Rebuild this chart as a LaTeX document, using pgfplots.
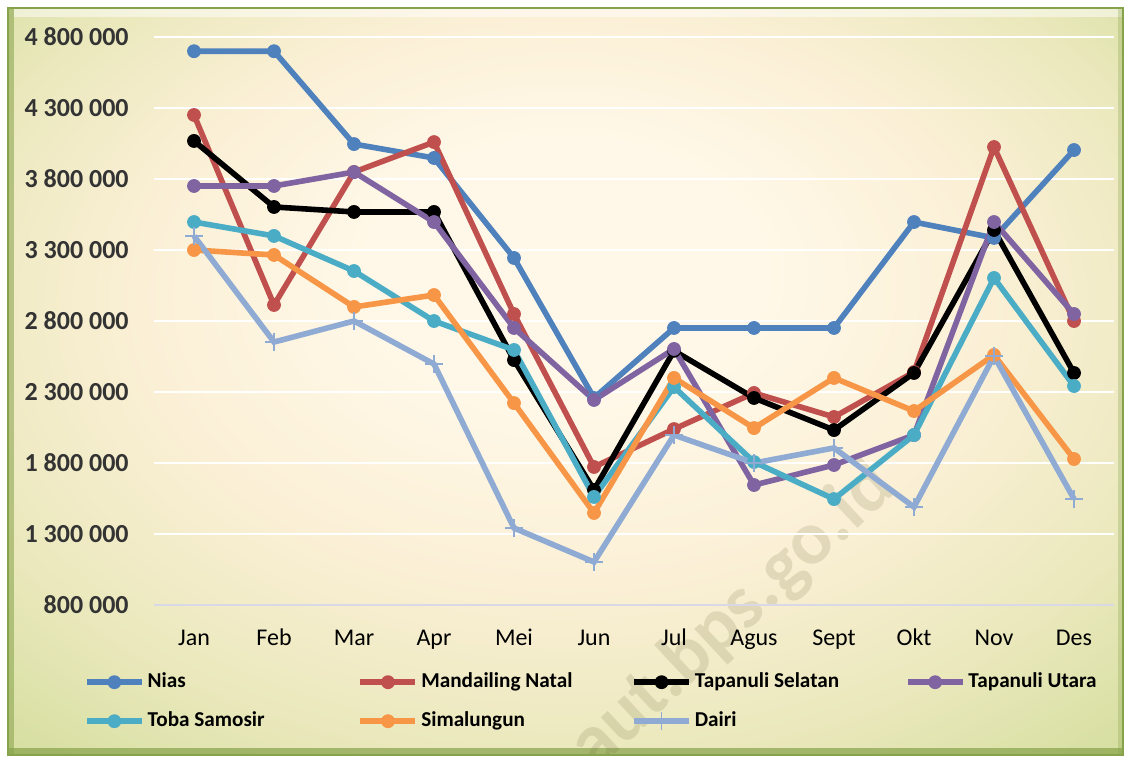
\documentclass[border=0pt]{standalone}
\usepackage{pgfplots}
\pgfplotsset{compat=1.18}
\usepackage{fontspec}
\setmainfont{Carlito}
\definecolor{cNias}{HTML}{4F81BD}
\definecolor{cMand}{HTML}{C0504D}
\definecolor{cTapSel}{HTML}{000000}
\definecolor{cTapUt}{HTML}{8064A2}
\definecolor{cToba}{HTML}{4BACC6}
\definecolor{cSima}{HTML}{F79646}
\definecolor{cDairi}{HTML}{8FAAD3}
\definecolor{bgA}{HTML}{FFF8E8}
\definecolor{bgB}{HTML}{FBF0D6}
\definecolor{bgC}{HTML}{EAE8BC}
\definecolor{bgD}{HTML}{D0DC98}
\definecolor{bgE}{HTML}{AEC86C}
\definecolor{lblgray}{HTML}{333333}
\definecolor{frameDark}{HTML}{86A24A}
\definecolor{baseLine}{HTML}{D8D8E6}
\pgfdeclareradialshading{bgshade}{\pgfpoint{0bp}{9bp}}{color(0bp)=(bgA); color(9bp)=(bgA); color(19bp)=(bgB); color(29bp)=(bgC); color(39bp)=(bgD); color(50bp)=(bgE)}
\begin{document}
\begin{tikzpicture}
\begin{scope}[x=0.5pt,y=-0.5pt]
  \fill[white] (0,0) rectangle (1127,759);
  \path[shading=bgshade] (8,8) rectangle (1123,755);
  \fill[frameDark,opacity=0.55] (8,8) rectangle (14,755);
  \fill[frameDark,opacity=0.7] (8,748) rectangle (1123,755);
  \fill[white,opacity=0.5] (14,9) rectangle (1123,17);
  \fill[frameDark,opacity=0.3] (1118,8) rectangle (1123,755);
  \draw[frameDark,line width=0.8pt] (8,8) rectangle (1123,755);
  \begin{scope}
    \clip (10,10) rectangle (1121,753);
    \node[rotate=43,font=\fontsize{38}{38}\selectfont\bfseries,text=black!45!olive,opacity=0.15] at (733,617) {aut.bps.go.id};
  \end{scope}
\end{scope}
\begin{axis}[
  at={(77pt,-302.5pt)}, anchor=south west,
  width=480pt, height=284pt, scale only axis,
  xmin=-0.5, xmax=11.5, ymin=800000, ymax=4800000,
  scaled y ticks=false,
  xtick={0,1,2,3,4,5,6,7,8,9,10,11},
  xticklabels={Jan,Feb,Mar,Apr,Mei,Jun,Jul,Agus,Sept,Okt,Nov,Des},
  ytick={800000,1300000,1800000,2300000,2800000,3300000,3800000,4300000,4800000},
  yticklabels={800 000,1 300 000,1 800 000,2 300 000,2 800 000,3 300 000,3 800 000,4 300 000,4 800 000},
  ymajorgrids, major grid style={white, line width=1pt},
  axis line style={draw=none}, tick style={draw=none},
  yticklabel style={font=\fontsize{13}{15}\selectfont\bfseries, text=lblgray, inner sep=0pt, xshift=-12.5pt},
  xticklabel style={font=\fontsize{12}{14}\selectfont, text=black, inner sep=0pt, text height=8pt, text depth=2pt, yshift=-12pt},
  clip=false,
  legend columns=4,
  legend cell align=left,
  legend style={at={(-0.0795,-0.1035)}, anchor=north west, draw=none, fill=none,
    font=\fontsize{10.6}{12}\selectfont\bfseries,
    column sep=0pt, row sep=5.5pt,
    nodes={inner xsep=1.5pt, inner ysep=2pt, text height=7.5pt, text depth=2.5pt}},
  legend image code/.code={\draw[mark repeat=2,mark phase=2] plot coordinates {(0pt,0pt) (13.75pt,0pt) (27.5pt,0pt)};},
  every axis plot/.append style={line width=2.8pt},
]
\draw[baseLine, line width=1pt] (axis cs:-0.5,800000) -- (axis cs:11.5,800000);
\addplot[color=cNias, mark=*, mark size=3.2pt, mark options={fill=cNias, draw=cNias, line width=0.5pt}] coordinates {
(0,4700000) (1,4700000) (2,4046000) (3,3948000) (4,3244000) (5,2258000) (6,2751000) (7,2751000) (8,2751000) (9,3497000) (10,3385000) (11,4004000)};
\addlegendentry{\makebox[103.5pt][l]{Nias}}
\addplot[color=cMand, mark=*, mark size=3.2pt, mark options={fill=cMand, draw=cMand, line width=0.5pt}] coordinates {
(0,4251000) (1,2913000) (2,3849000) (3,4060000) (4,2849000) (5,1772000) (6,2039000) (7,2293000) (8,2124000) (9,2441000) (10,4025000) (11,2800000)};
\addlegendentry{\makebox[103.5pt][l]{Mandailing Natal}}
\addplot[color=cTapSel, mark=*, mark size=3.2pt, mark options={fill=cTapSel, draw=cTapSel, line width=0.5pt}] coordinates {
(0,4068000) (1,3603000) (2,3568000) (3,3568000) (4,2525000) (5,1610000) (6,2590000) (7,2258000) (8,2032000) (9,2434000) (10,3441000) (11,2434000)};
\addlegendentry{\makebox[103.5pt][l]{Tapanuli Selatan}}
\addplot[color=cTapUt, mark=*, mark size=3.2pt, mark options={fill=cTapUt, draw=cTapUt, line width=0.5pt}] coordinates {
(0,3751000) (1,3751000) (2,3849000) (3,3497000) (4,2751000) (5,2244000) (6,2603000) (7,1645000) (8,1786000) (9,1997000) (10,3497000) (11,2849000)};
\addlegendentry{Tapanuli Utara}
\addplot[color=cToba, mark=*, mark size=3.2pt, mark options={fill=cToba, draw=cToba, line width=0.5pt}] coordinates {
(0,3497000) (1,3399000) (2,3152000) (3,2800000) (4,2596000) (5,1561000) (6,2335000) (7,1807000) (8,1546000) (9,1997000) (10,3103000) (11,2342000)};
\addlegendentry{Toba Samosir}
\addplot[color=cSima, mark=*, mark size=3.2pt, mark options={fill=cSima, draw=cSima, line width=0.5pt}] coordinates {
(0,3300000) (1,3265000) (2,2899000) (3,2983000) (4,2222000) (5,1448000) (6,2399000) (7,2046000) (8,2399000) (9,2166000) (10,2561000) (11,1828000)};
\addlegendentry{Simalungun}
\addplot[color=cDairi, mark=+, mark size=4.5pt, mark options={draw=cDairi, line width=0.8pt}] coordinates {
(0,3399000) (1,2652000) (2,2800000) (3,2497000) (4,1342000) (5,1103000) (6,1997000) (7,1800000) (8,1906000) (9,1490000) (10,2553000) (11,1547000)};
\addlegendentry{Dairi}
\end{axis}
\end{tikzpicture}
\end{document}
